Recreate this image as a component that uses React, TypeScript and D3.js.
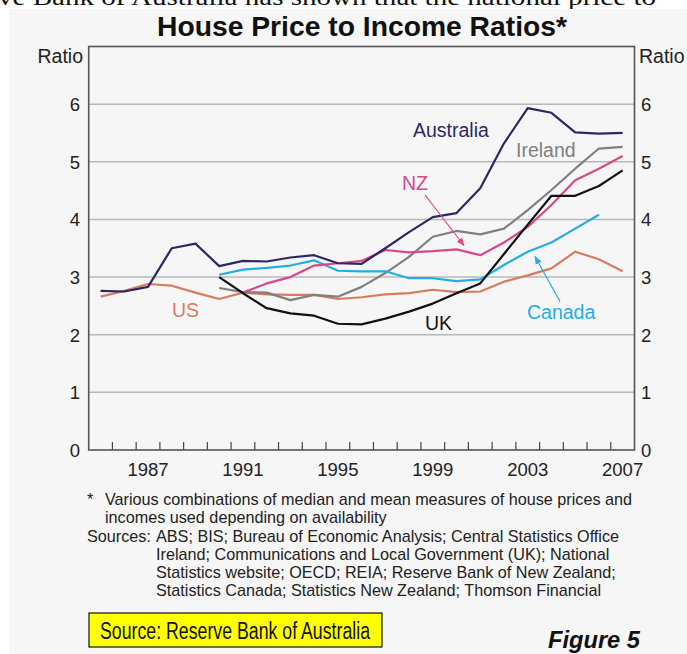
import React from 'react';
import * as d3 from 'd3';

// annual observations, plotted at mid-year
const australiaYears = d3.range(1985, 2008);
const australia = [2.76, 2.75, 2.83, 3.5, 3.58, 3.19, 3.28, 3.27, 3.34, 3.38, 3.24, 3.23, 3.5, 3.78, 4.04, 4.11, 4.54, 5.32, 5.93, 5.85, 5.51, 5.49, 5.5];
const irelandYears = d3.range(1990, 2008);
const ireland = [2.81, 2.74, 2.73, 2.6, 2.69, 2.66, 2.83, 3.07, 3.35, 3.7, 3.8, 3.74, 3.84, 4.16, 4.51, 4.88, 5.23, 5.26];
const nzYears = d3.range(1991, 2008);
const nz = [2.73, 2.89, 3.0, 3.2, 3.24, 3.28, 3.47, 3.43, 3.45, 3.48, 3.38, 3.6, 3.87, 4.25, 4.68, 4.88, 5.1];
const canadaYears = d3.range(1990, 2007);
const canada = [3.04, 3.13, 3.16, 3.2, 3.29, 3.11, 3.1, 3.1, 2.98, 2.98, 2.93, 2.96, 3.21, 3.44, 3.6, 3.84, 4.08];
const ukYears = d3.range(1990, 2008);
const uk = [3.0, 2.72, 2.46, 2.37, 2.33, 2.19, 2.18, 2.28, 2.4, 2.54, 2.72, 2.89, 3.4, 3.91, 4.41, 4.41, 4.58, 4.85];
const usYears = d3.range(1985, 2008);
const us = [2.66, 2.76, 2.88, 2.85, 2.73, 2.62, 2.73, 2.7, 2.69, 2.69, 2.62, 2.65, 2.7, 2.72, 2.78, 2.74, 2.75, 2.92, 3.03, 3.15, 3.44, 3.31, 3.1];

const yTicks = [0, 1, 2, 3, 4, 5, 6];
const yearLabels = [1987, 1991, 1995, 1999, 2003, 2007];
const tickYears = d3.range(1986, 2008);

const footnote = [
  'Various combinations of median and mean measures of house prices and',
  'incomes used depending on availability',
];
const sources = [
  'ABS; BIS; Bureau of Economic Analysis; Central Statistics Office',
  'Ireland; Communications and Local Government (UK); National',
  'Statistics website; OECD; REIA; Reserve Bank of New Zealand;',
  'Statistics Canada; Statistics New Zealand; Thomson Financial',
];

const series = [
  { name: 'US', years: usYears, values: us, color: '#d97c5e', lx: 172, ly: 317 },
  { name: 'Ireland', years: irelandYears, values: ireland, color: '#808080', lx: 516, ly: 157 },
  { name: 'Canada', years: canadaYears, values: canada, color: '#22afe3', lx: 527, ly: 319 },
  { name: 'NZ', years: nzYears, values: nz, color: '#d9488b', lx: 402, ly: 190 },
  { name: 'UK', years: ukYears, values: uk, color: '#111111', lx: 425, ly: 330 },
  { name: 'Australia', years: australiaYears, values: australia, color: '#2c2866', lx: 413, ly: 137 },
];

const font = 'Liberation Sans, Arial, sans-serif';

export default function App() {
  const W = 687, H = 654;
  const x = d3.scaleLinear().domain([1985, 2008]).range([88.7, 634.5]);
  const y = d3.scaleLinear().domain([0, 7]).range([450, 46.5]);

  const line = d3.line<[number, number]>()
    .x(d => x(d[0] + 0.5))
    .y(d => y(d[1]));

  return (
    <svg width={W} height={H} style={{ position: 'absolute', left: 0, top: 0, background: '#fff' }}>
      <defs>
        <marker id="headNZ" viewBox="0 0 10 10" refX="9" refY="5" markerWidth="7" markerHeight="7" orient="auto">
          <path d="M0,1 L10,5 L0,9 z" fill="#d9488b" />
        </marker>
        <marker id="headCA" viewBox="0 0 10 10" refX="9" refY="5" markerWidth="7" markerHeight="7" orient="auto">
          <path d="M0,1 L10,5 L0,9 z" fill="#22afe3" />
        </marker>
      </defs>

      {/* clipped document text above the figure */}
      <text x={-2} y={5} fontFamily="Liberation Serif, Times New Roman, serif" fontSize={24} fill="#111"
        textLength={658} lengthAdjust="spacingAndGlyphs">ve Bank of Australia has shown that the national price to</text>
      <rect x={9} y={9} width={W} height={H} fill="#f6f6f6" />

      <text x={362} y={36} textAnchor="middle" fontFamily={font} fontWeight="bold" fontSize={28}
        fill="#111" textLength={410} lengthAdjust="spacingAndGlyphs">House Price to Income Ratios*</text>

      <text x={83} y={62.5} textAnchor="end" fontFamily={font} fontSize={19.5} fill="#222">Ratio</text>
      <text x={639} y={62.5} fontFamily={font} fontSize={19.5} fill="#222">Ratio</text>

      {/* grid */}
      {yTicks.filter(t => t > 0).map(t => (
        <line key={t} x1={x(1985)} x2={x(2008)} y1={y(t)} y2={y(t)} stroke="#b8b8b8" strokeWidth={1.5} />
      ))}
      {yTicks.map(t => (
        <g key={'l' + t} fontFamily={font} fontSize={18.5} fill="#222">
          <text x={80} y={y(t) + 6.8} textAnchor="end">{t}</text>
          <text x={641} y={y(t) + 6.8}>{t}</text>
        </g>
      ))}

      {/* x ticks */}
      {tickYears.map(yr => (
        <line key={yr} x1={x(yr)} x2={x(yr)} y1={y(0)} y2={y(0) - 8} stroke="#444" strokeWidth={1.2} />
      ))}
      {yearLabels.map(yr => (
        <text key={yr} x={x(yr + 0.5)} y={476} textAnchor="middle" fontFamily={font} fontSize={18.5} fill="#222">{yr}</text>
      ))}

      {/* series */}
      {series.map(s => (
        <path key={s.name} d={line(s.years.map((yr, i) => [yr, s.values[i]] as [number, number])) || ''}
          fill="none" stroke={s.color} strokeWidth={2.2} strokeLinejoin="round" />
      ))}

      <rect x={x(1985)} y={y(7)} width={x(2008) - x(1985)} height={y(0) - y(7)} fill="none" stroke="#555" strokeWidth={1.6} />

      {series.map(s => (
        <text key={'t' + s.name} x={s.lx} y={s.ly} fontFamily={font} fontSize={19.5} fill={s.color}>{s.name}</text>
      ))}

      <line x1={425} y1={195} x2={464} y2={245.5} stroke="#d9488b" strokeWidth={1.2} markerEnd="url(#headNZ)" />
      <line x1={560} y1={301.5} x2={535} y2={256.5} stroke="#22afe3" strokeWidth={1.2} markerEnd="url(#headCA)" />

      {/* notes */}
      <g fontFamily={font} fontSize={16.2} fill="#222">
        <text x={87} y={505}>*</text>
        {footnote.map((t, i) => (
          <text key={t} x={105} y={505 + i * 18.2}>{t}</text>
        ))}
        <text x={87} y={541.5}>Sources:</text>
        {sources.map((t, i) => (
          <text key={t} x={156} y={541.5 + i * 18}>{t}</text>
        ))}
      </g>

      <rect x={89} y={613} width={293} height={34} fill="#ffff00" stroke="#111" strokeWidth={1.2} />
      <text x={100} y={638.5} fontFamily={font} fontSize={23} fill="#111"
        textLength={270} lengthAdjust="spacingAndGlyphs">Source: Reserve Bank of Australia</text>

      <text x={548} y={647.5} fontFamily={font} fontWeight="bold" fontStyle="italic" fontSize={23} fill="#111"
        textLength={92} lengthAdjust="spacingAndGlyphs">Figure 5</text>
    </svg>
  );
}
